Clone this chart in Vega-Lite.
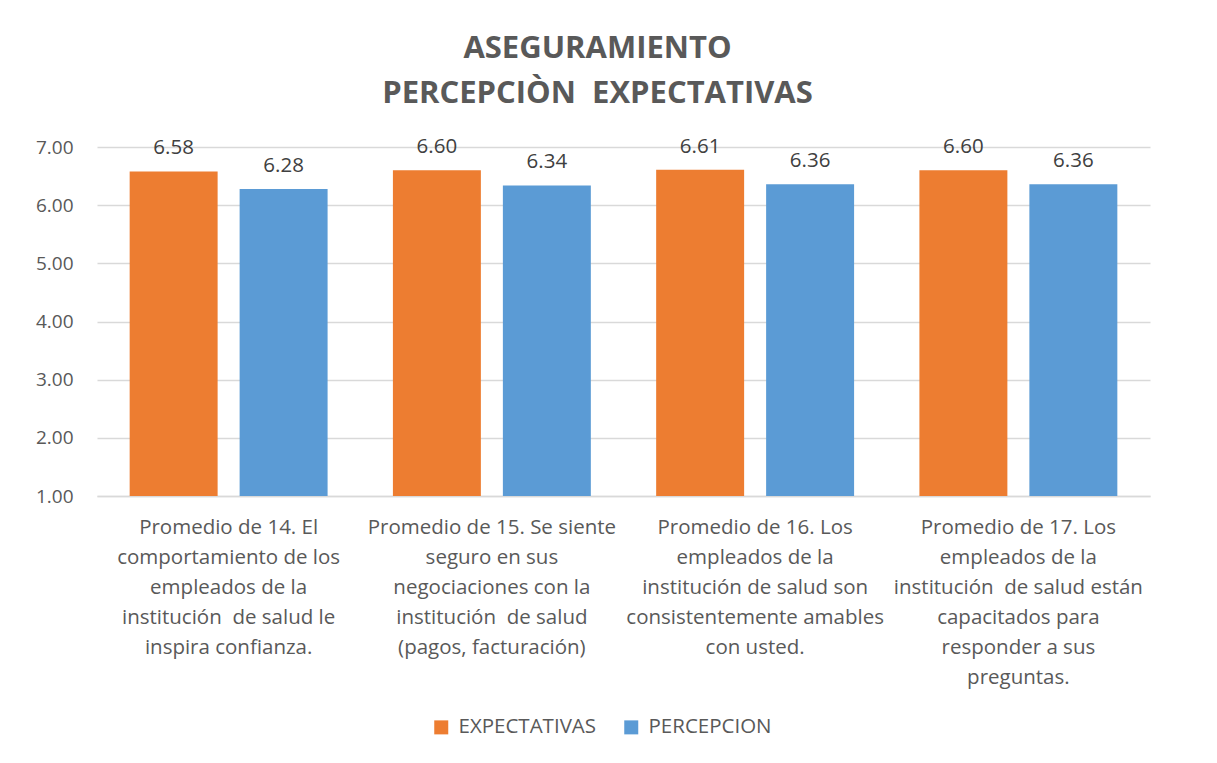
{
  "$schema": "https://vega.github.io/schema/vega-lite/v6.json",
  "width": 1053,
  "height": 349,
  "autosize": {"type": "none"},
  "padding": {"left": 97, "top": 147, "right": 67, "bottom": 267},
  "background": "white",
  "title": {
    "text": ["ASEGURAMIENTO", "PERCEPCIÒN\u00a0\u00a0EXPECTATIVAS"],
    "font": "Open Sans",
    "fontSize": 31,
    "fontWeight": "bold",
    "color": "#595959",
    "lineHeight": 45,
    "anchor": "middle",
    "dx": -26,
    "offset": 27
  },
  "data": {
    "values": [
      {"pregunta": "Promedio de 14. El|comportamiento de los|empleados de la|institución\u00a0\u00a0de salud le|inspira confianza.", "orden": 1, "serie": "EXPECTATIVAS", "valor": 6.58},
      {"pregunta": "Promedio de 14. El|comportamiento de los|empleados de la|institución\u00a0\u00a0de salud le|inspira confianza.", "orden": 1, "serie": "PERCEPCION", "valor": 6.28},
      {"pregunta": "Promedio de 15. Se siente|seguro en sus|negociaciones con la|institución\u00a0\u00a0de salud|(pagos, facturación)", "orden": 2, "serie": "EXPECTATIVAS", "valor": 6.60},
      {"pregunta": "Promedio de 15. Se siente|seguro en sus|negociaciones con la|institución\u00a0\u00a0de salud|(pagos, facturación)", "orden": 2, "serie": "PERCEPCION", "valor": 6.34},
      {"pregunta": "Promedio de 16. Los|empleados de la|institución de salud son|consistentemente amables|con usted.", "orden": 3, "serie": "EXPECTATIVAS", "valor": 6.61},
      {"pregunta": "Promedio de 16. Los|empleados de la|institución de salud son|consistentemente amables|con usted.", "orden": 3, "serie": "PERCEPCION", "valor": 6.36},
      {"pregunta": "Promedio de 17. Los|empleados de la|institución\u00a0\u00a0de salud están|capacitados para|responder a sus|preguntas.", "orden": 4, "serie": "EXPECTATIVAS", "valor": 6.60},
      {"pregunta": "Promedio de 17. Los|empleados de la|institución\u00a0\u00a0de salud están|capacitados para|responder a sus|preguntas.", "orden": 4, "serie": "PERCEPCION", "valor": 6.36}
    ]
  },
  "encoding": {
    "x": {
      "field": "pregunta",
      "type": "nominal",
      "sort": {"field": "orden"},
      "scale": {"paddingInner": 0, "paddingOuter": 0},
      "axis": {
        "title": null,
        "labelAngle": 0,
        "labelExpr": "split(datum.label, '|')",
        "labelFont": "Open Sans",
        "labelFontSize": 20.5,
        "labelColor": "#595959",
        "labelLineHeight": 30,
        "labelPadding": 21,
        "labelBaseline": "top",
        "ticks": false,
        "domainColor": "#D9D9D9",
        "domainWidth": 1.5,
        "labelLimit": 400
      }
    },
    "xOffset": {
      "field": "serie",
      "type": "nominal",
      "scale": {"paddingInner": 0.2, "paddingOuter": 0.297}
    },
    "y": {
      "field": "valor",
      "type": "quantitative",
      "scale": {"domain": [1, 7], "zero": false, "nice": false},
      "axis": {
        "title": null,
        "tickCount": 7,
        "format": ".2f",
        "labelFont": "Open Sans",
        "labelFontSize": 19,
        "labelColor": "#595959",
        "labelPadding": 24,
        "ticks": false,
        "domain": false,
        "gridColor": "#D9D9D9",
        "gridWidth": 1.5
      }
    },
    "color": {
      "field": "serie",
      "type": "nominal",
      "scale": {"domain": ["EXPECTATIVAS", "PERCEPCION"], "range": ["#ED7D31", "#5B9BD5"]},
      "legend": {
        "title": null,
        "orient": "none",
        "direction": "horizontal",
        "legendX": 334,
        "legendY": 570,
        "symbolType": "square",
        "symbolSize": 196,
        "symbolStrokeWidth": 0,
        "labelFont": "Open Sans",
        "labelFontSize": 20.5,
        "labelColor": "#595959",
        "columnPadding": 24,
        "labelOffset": 7
      }
    }
  },
  "layer": [
    {"mark": {"type": "bar"}, "encoding": {"y2": {"datum": 1}}},
    {
      "mark": {"type": "text", "baseline": "bottom", "dy": -13, "font": "Open Sans", "fontSize": 20.5, "color": "#404040"},
      "encoding": {"text": {"field": "valor", "type": "quantitative", "format": ".2f"}, "color": {"value": "#404040"}}
    }
  ],
  "config": {"view": {"stroke": null}}
}
